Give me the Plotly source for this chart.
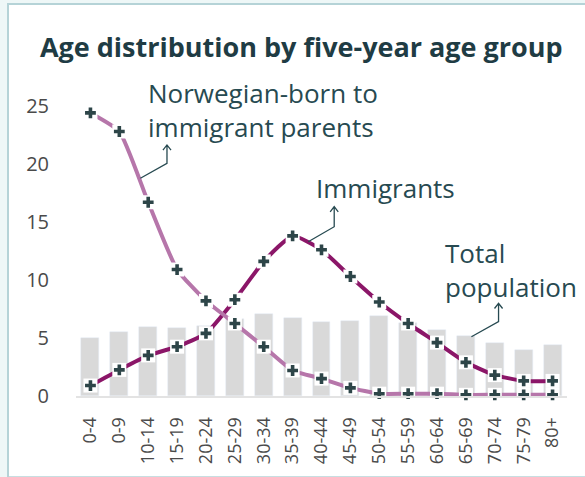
import plotly.graph_objects as go

# Five-year age groups (labels as published)
age_groups = ["0-4", "0-9", "10-14", "15-19", "20-24", "25-29", "30-34", "35-39",
              "40-44", "45-49", "50-54", "55-59", "60-64", "65-69", "70-74",
              "75-79", "80+"]

# Share of each group, per cent
total_population = [5.0, 5.5, 5.95, 5.85, 6.0, 6.6, 7.1, 6.7, 6.4, 6.45,
                    6.9, 6.3, 5.7, 5.2, 4.6, 4.0, 4.4]
immigrants = [0.9, 2.25, 3.5, 4.25, 5.4, 8.3, 11.6, 13.8, 12.6, 10.3,
              8.1, 6.25, 4.6, 2.9, 1.8, 1.3, 1.3]
norwegian_born = [24.4, 22.8, 16.7, 10.9, 8.2, 6.25, 4.25, 2.2, 1.5, 0.7,
                  0.2, 0.2, 0.2, 0.1, 0.1, 0.1, 0.1]

y_ticks = [0, 5, 10, 15, 20, 25]

idx = list(range(len(age_groups)))

TEXT = "#274a51"
MARKER = "#2d4548"
IMM = "#8b1668"
NOR = "#b676aa"
BAR = "#d9d9d9"
FONT = "Open Sans"

fig = go.Figure()

fig.add_trace(go.Bar(x=idx, y=total_population, marker_color=BAR,
                     width=0.62, hoverinfo="skip"))


def add_series(values, color):
    fig.add_trace(go.Scatter(x=idx, y=values, mode="lines",
                             line=dict(color=color, width=4, shape="spline",
                                       smoothing=0.5),
                             cliponaxis=False, hoverinfo="skip"))
    fig.add_trace(go.Scatter(x=idx, y=values, mode="markers",
                             marker=dict(symbol="square", size=14, color="white",
                                         line=dict(width=0)),
                             cliponaxis=False, hoverinfo="skip"))
    fig.add_trace(go.Scatter(x=idx, y=values, mode="markers",
                             marker=dict(symbol="cross", size=9, color=MARKER,
                                         line=dict(width=0)),
                             cliponaxis=False, hoverinfo="skip"))


add_series(immigrants, IMM)
add_series(norwegian_born, NOR)


# Leader lines with open arrowheads, in data units
def leader(x_end, y_end, x_bend, y_bend, y_tip):
    ax = 0.14
    ay = 0.45
    return dict(type="path", xref="x", yref="y",
                path=(f"M {x_end},{y_end} L {x_bend},{y_bend} L {x_bend},{y_tip} "
                      f"M {x_bend - ax},{y_tip - ay} L {x_bend},{y_tip} "
                      f"L {x_bend + ax},{y_tip - ay}"),
                line=dict(color=TEXT, width=1.3))


shapes = [
    # card
    dict(type="rect", xref="paper", yref="paper", x0=-0.1385, x1=1.06,
         y0=-0.262, y1=1.2645, fillcolor="white",
         line=dict(color="#b5d3d7", width=2), layer="below"),
    leader(1.73, 18.77, 2.65, 20.06, 21.64),
    leader(7.54, 13.3, 8.44, 14.59, 16.32),
    leader(13.19, 5.11, 14.13, 6.41, 7.99),
]


def label(text, x, y):
    return dict(text=text, x=x, y=y, xref="x", yref="y", xanchor="left",
                yanchor="middle", align="left", showarrow=False,
                font=dict(size=26, color=TEXT, family=FONT))


annotations = [
    label("Norwegian-born to<br>immigrant parents", 1.94, 24.61),
    label("Immigrants", 7.74, 17.93),
    label("Total<br>population", 12.2, 10.86),
]

fig.update_layout(
    width=585, height=477,
    margin=dict(l=76, r=18, t=86, b=81),
    paper_bgcolor="#eef7f7",
    plot_bgcolor="white",
    showlegend=False,
    bargap=0,
    title=dict(text="<b>Age distribution by five-year age group</b>",
               x=0.515, xanchor="center", y=0.9, yanchor="middle",
               font=dict(size=27, color="#1f3c44", family=FONT)),
    shapes=shapes,
    annotations=annotations,
    xaxis=dict(range=[-0.5, len(age_groups) - 0.5], tickmode="array",
               tickvals=idx, ticktext=age_groups, tickangle=-90,
               showgrid=False, zeroline=False, showline=True,
               linecolor="#e3e3e3", linewidth=2, ticks="",
               ticklabelstandoff=12,
               tickfont=dict(size=18, color="#4a4a4a", family=FONT),
               fixedrange=True),
    yaxis=dict(range=[0, 26.72], tickmode="array", tickvals=y_ticks,
               showgrid=False, zeroline=False, showline=False, ticks="",
               ticklabelstandoff=26,
               tickfont=dict(size=20, color="#4a4a4a", family=FONT),
               fixedrange=True),
)

fig.write_html("out.html")
